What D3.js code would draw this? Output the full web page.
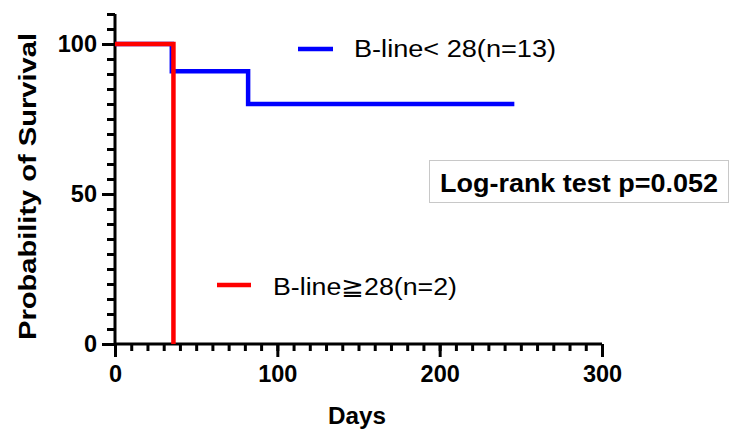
<!DOCTYPE html>
<html>
<head>
<meta charset="utf-8">
<script src="https://cdn.jsdelivr.net/npm/d3@7"></script>
<style>
  body { margin: 0; background: #fff; }
  text { font-family: "Liberation Sans", Arial, sans-serif; }
</style>
</head>
<body>
<div id="chart"></div>
<script>
// Kaplan-Meier steps
const blueDays = [0, 35, 82, 246];
const blueSurv = [100, 90.9, 80, 80];
const redDays = [0, 36];
const redSurv = [100, 0];

const xMajor = [0, 100, 200, 300];
const yMajor = [0, 50, 100];
const legendLabels = ["B-line< 28(n=13)", "B-line\u226728(n=2)"];
const pText = "Log-rank test p=0.052";

const width = 734, height = 430;
const svg = d3.select("#chart").append("svg")
    .attr("width", width)
    .attr("height", height);

const x = d3.scaleLinear().domain([0, 300]).range([115, 602]);
const y = d3.scaleLinear().domain([0, 110]).range([344, 14]);

// minor ticks
svg.append("g")
    .attr("transform", `translate(${x(0)},0)`)
    .call(d3.axisLeft(y).tickValues(d3.range(0, 111, 5)).tickSize(8).tickFormat(""))
    .call(g => g.selectAll("line, path").attr("stroke", "#000").attr("stroke-width", 3))
    .call(g => g.select(".domain").attr("d", `M0,${y(110)}V${y(0)}`));

svg.append("g")
    .attr("transform", `translate(0,${y(0)})`)
    .call(d3.axisBottom(x).tickValues(d3.range(0, 301, 10)).tickSize(7).tickFormat(""))
    .call(g => g.selectAll("line, path").attr("stroke", "#000").attr("stroke-width", 3))
    .call(g => g.select(".domain").attr("d", `M${x(0)},0H${x(300)}`));

// major ticks
svg.append("g")
    .attr("transform", `translate(${x(0)},0)`)
    .call(d3.axisLeft(y).tickValues(yMajor).tickSize(13).tickPadding(5))
    .call(g => g.select(".domain").remove())
    .call(g => g.selectAll("line").attr("stroke", "#000").attr("stroke-width", 3))
    .call(g => g.selectAll("text").attr("font-size", 23.5).attr("font-weight", "bold").attr("fill", "#000")
        .style("font-family", "'Liberation Sans', Arial, sans-serif"));

svg.append("g")
    .attr("transform", `translate(0,${y(0)})`)
    .call(d3.axisBottom(x).tickValues(xMajor).tickSize(13).tickPadding(8))
    .call(g => g.select(".domain").remove())
    .call(g => g.selectAll("line").attr("stroke", "#000").attr("stroke-width", 3))
    .call(g => g.selectAll("text").attr("font-size", 23.5).attr("font-weight", "bold").attr("fill", "#000")
        .style("font-family", "'Liberation Sans', Arial, sans-serif"));

// survival curves
const line = d3.line()
    .x(d => x(d[0]))
    .y(d => y(d[1]))
    .curve(d3.curveStepAfter);

svg.append("path")
    .datum(blueDays.map((d, i) => [d, blueSurv[i]]))
    .attr("d", line)
    .attr("fill", "none")
    .attr("stroke", "#0000ff")
    .attr("stroke-width", 4.5);

svg.append("path")
    .datum(redDays.map((d, i) => [d, redSurv[i]]))
    .attr("d", line)
    .attr("fill", "none")
    .attr("stroke", "#ff0000")
    .attr("stroke-width", 4.5);

// legend
const legend = [
    { color: "#0000ff", label: legendLabels[0], x1: 298, x2: 333, ly: 49, tx: 354, ty: 57, len: 202 },
    { color: "#ff0000", label: legendLabels[1], x1: 217, x2: 251, ly: 285, tx: 273, ty: 295, len: 184 }
];
legend.forEach(l => {
    svg.append("line")
        .attr("x1", l.x1).attr("x2", l.x2)
        .attr("y1", l.ly).attr("y2", l.ly)
        .attr("stroke", l.color).attr("stroke-width", 4.5);
    svg.append("text")
        .attr("x", l.tx).attr("y", l.ty)
        .attr("font-size", 23.5)
        .attr("textLength", l.len)
        .attr("lengthAdjust", "spacingAndGlyphs")
        .text(l.label);
});

// log-rank box
svg.append("rect")
    .attr("x", 429.5).attr("y", 160.5)
    .attr("width", 299).attr("height", 42)
    .attr("fill", "#fff")
    .attr("stroke", "#c8c8c8")
    .attr("stroke-width", 1);
svg.append("text")
    .attr("x", 440).attr("y", 191.5)
    .attr("font-size", 25.5)
    .attr("font-weight", "bold")
    .attr("textLength", 278)
    .attr("lengthAdjust", "spacingAndGlyphs")
    .text(pText);

// axis titles
svg.append("text")
    .attr("transform", `translate(36,${186.5}) rotate(-90)`)
    .attr("text-anchor", "middle")
    .attr("font-size", 24)
    .attr("font-weight", "bold")
    .attr("textLength", 307)
    .attr("lengthAdjust", "spacingAndGlyphs")
    .text("Probability of Survival");

svg.append("text")
    .attr("x", 357).attr("y", 424)
    .attr("text-anchor", "middle")
    .attr("font-size", 24)
    .attr("font-weight", "bold")
    .attr("textLength", 58)
    .attr("lengthAdjust", "spacingAndGlyphs")
    .text("Days");
</script>
</body>
</html>
